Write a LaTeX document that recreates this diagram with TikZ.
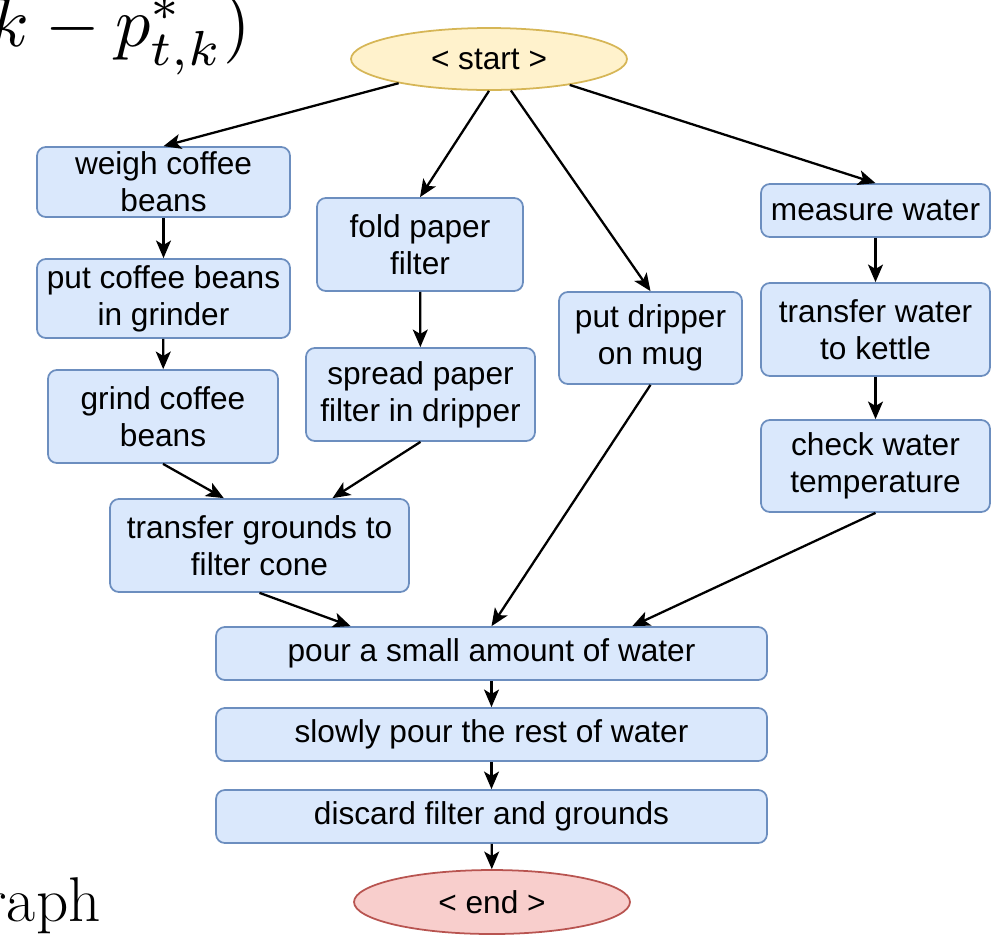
\documentclass[tikz,border=0pt]{standalone}
\usepackage{fontspec}
\newfontfamily\boxfont{Liberation Sans}
\usetikzlibrary{arrows.meta,shapes.geometric}
\definecolor{stepfill}{HTML}{DAE8FC}
\definecolor{stepdraw}{HTML}{6C8EBF}
\definecolor{startfill}{HTML}{FFF2CC}
\definecolor{startdraw}{HTML}{D6B656}
\definecolor{endfill}{HTML}{F8CECC}
\definecolor{enddraw}{HTML}{B85450}
\tikzstyle{step-node}=[fill=stepfill,draw=stepdraw,line width=1pt,rounded corners=5pt,align=center,inner sep=1pt,font=\boxfont\fontsize{18}{21}\selectfont]
\tikzstyle{start-node}=[fill=startfill,draw=startdraw,ellipse,line width=1pt,inner sep=0pt,font=\boxfont\fontsize{18}{21}\selectfont]
\tikzstyle{end-node}=[fill=endfill,draw=enddraw,ellipse,line width=1pt,inner sep=0pt,font=\boxfont\fontsize{18}{21}\selectfont]
\tikzstyle{black-line}=[draw=black,line width=1.3pt]

\begin{document}
\begin{tikzpicture}[x=0.02cm,y=-0.02cm]
	\useasboundingbox (0,0) rectangle (999,934);
	\clip (0,0) rectangle (999,934);

	% bits of the page around the figure
	\node (eqpart)[anchor=base east,inner sep=0pt,scale=4] at (252,46) {$k - p^{*}_{t,k})$};
	\node (graphword)[anchor=base east,inner sep=0pt] at (101,921) {\fontsize{36}{40}\selectfont raph};

	\begin{scope}
	\node (start)[start-node,minimum width=5.52cm,minimum height=1.24cm] at (489,59) {< start >};

	\node (weigh)[step-node,minimum width=5.06cm,minimum height=1.4cm] at (163.5,182) {weigh coffee\\beans};
	\node (grinder)[step-node,minimum width=5.06cm,minimum height=1.58cm] at (163.5,298.5) {put coffee beans\\in grinder};
	\node (grind)[step-node,minimum width=4.6cm,minimum height=1.86cm] at (163,416.5) {grind coffee\\beans};

	\node (fold)[step-node,minimum width=4.12cm,minimum height=1.86cm] at (420,244.5) {fold paper\\filter};
	\node (spread)[step-node,minimum width=4.58cm,minimum height=1.86cm] at (420.5,394.5) {spread paper\\filter in dripper};

	\node (dripper)[step-node,minimum width=3.66cm,minimum height=1.84cm] at (650.5,338) {put dripper\\on mug};

	\node (measure)[step-node,minimum width=4.58cm,minimum height=1.06cm] at (875.5,210.5) {measure water};
	\node (kettle)[step-node,minimum width=4.58cm,minimum height=1.86cm] at (875.5,329.5) {transfer water\\to kettle};
	\node (check)[step-node,minimum width=4.58cm,minimum height=1.84cm] at (875.5,466) {check water\\temperature};

	\node (cone)[step-node,minimum width=5.98cm,minimum height=1.86cm] at (259.5,545.5) {transfer grounds to\\filter cone};

	\node (pour)[step-node,minimum width=11.02cm,minimum height=1.06cm] at (491.5,653.5) {pour a small amount of water};
	\node (slowly)[step-node,minimum width=11.02cm,minimum height=1.06cm] at (491.5,734.5) {slowly pour the rest of water};
	\node (discard)[step-node,minimum width=11.02cm,minimum height=1.06cm] at (491.5,816.5) {discard filter and grounds};

	\node (end)[end-node,minimum width=5.52cm,minimum height=1.28cm] at (492,902) {< end >};
	\end{scope}

	\begin{scope}[>={Stealth[black,length=10pt,width=8.5pt,inset=2.5pt]}, every edge/.style=black-line]
	\path [->] (start) edge node {} (weigh.north);
	\path [->] (start.south) edge node {} (fold.north);
	\path [->] (start) edge node {} (dripper.north);
	\path [->] (start) edge node {} (measure.north);
	\path [->] (weigh) edge node {} (grinder);
	\path [->] (grinder) edge node {} (grind);
	\path [->] (fold) edge node {} (spread);
	\path [->] (measure) edge node {} (kettle);
	\path [->] (kettle) edge node {} (check);
	\path [->] (grind.south) edge node {} (cone.127);
	\path [->] (spread.south) edge node {} (cone.33);
	\path [->] (cone.south) edge node {} (pour.169);
	\path [->] (dripper.south) edge node {} (pour.north);
	\path [->] (check.south) edge node {} (pour.11);
	\path [->] (pour) edge node {} (slowly);
	\path [->] (slowly) edge node {} (discard);
	\path [->] (discard) edge node {} (end);
	\end{scope}
\end{tikzpicture}
\end{document}
